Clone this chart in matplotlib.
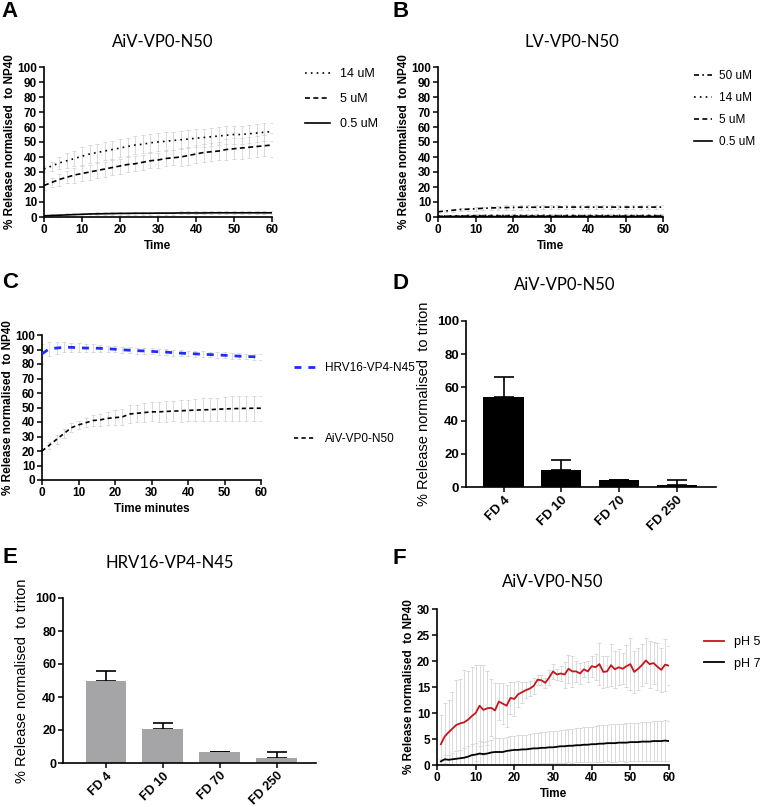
import matplotlib
matplotlib.use("Agg")
import matplotlib.pyplot as plt
import numpy as np

plt.rcParams['font.family'] = ['Liberation Sans', 'DejaVu Sans']

# ---------------- data ----------------
# Panel A (AiV-VP0-N50, concentrations)
a_time = list(range(0, 61, 2))
a_14 = [32, 34, 36, 37.5, 39, 40.5, 42, 43, 44, 45, 46, 47, 48, 48.5, 49.5, 50, 50.5, 51, 51.5, 52,
        52.5, 53, 53.5, 54, 54.5, 55, 55, 55.5, 56, 56.5, 57]
a_14_err = [2, 3, 4, 5, 5, 6, 6, 6, 6, 6, 6, 6, 6, 6, 6, 6, 6, 6, 6, 6, 6, 6, 6, 6, 6, 6, 6, 6, 6, 6, 6]
a_5 = [21, 23, 25, 26.5, 28, 29, 30, 31, 32, 33, 34, 35, 35.5, 36.5, 37.5, 38, 39, 39.5, 40, 41,
       42, 43, 43.5, 44, 45, 45.5, 46, 46.5, 47, 47.5, 48]
a_5_err = [3, 3, 4, 4, 5, 5, 5, 5, 5, 5, 5, 5, 5, 5, 5, 5, 5, 5, 6, 6, 6, 6, 6, 6, 7, 7, 7, 7, 7, 7, 8]
a_05 = [0.8, 1.0, 1.2, 1.4, 1.6, 1.8, 2.0, 2.1, 2.2, 2.3, 2.4, 2.4, 2.5, 2.5, 2.5, 2.6, 2.6, 2.6, 2.7,
        2.7, 2.7, 2.7, 2.8, 2.8, 2.8, 2.8, 2.8, 2.8, 2.8, 2.8, 2.8]
a_05_err = [0.8, 0.8, 1, 1, 1, 1, 1, 1, 1, 1, 1, 1, 1, 1, 1, 1, 1, 1, 1, 1, 1, 1, 1, 1, 1, 1, 1, 1, 1, 1, 1]
a_labels = ['14 uM', '5 uM', '0.5 uM']

# Panel B (LV-VP0-N50)
b_time = list(range(0, 61, 2))
b_50 = [3.5, 4, 4.5, 5, 5.2, 5.5, 5.8, 6, 6.2, 6.3, 6.4, 6.5, 6.5, 6.5, 6.6, 6.6, 6.6, 6.6, 6.6, 6.6,
        6.6, 6.6, 6.6, 6.6, 6.6, 6.6, 6.6, 6.6, 6.6, 6.6, 6.6]
b_50_err = [0.8, 0.8, 1, 1, 1, 1.2, 1.2, 1.2, 1.4, 1.4, 1.4, 1.5, 1.5, 1.5, 1.5, 1.5, 1.5, 1.5, 1.5, 1.5,
            1.5, 1.5, 1.5, 1.5, 1.5, 1.5, 1.5, 1.5, 1.5, 1.5, 1.5]
b_14 = [0.6, 0.7, 0.8, 0.8, 0.9, 0.9, 1.0, 1.0, 1.0, 1.0, 1.0, 1.0, 1.0, 1.0, 1.0, 1.0, 1.0, 1.0, 1.0,
        1.0, 1.0, 1.0, 1.0, 1.0, 1.0, 1.0, 1.0, 1.0, 1.0, 1.0, 1.0]
b_14_err = [0.8] * 31
b_5 = [0.4, 0.5, 0.5, 0.5, 0.6, 0.6, 0.6, 0.6, 0.6, 0.6, 0.6, 0.6, 0.6, 0.6, 0.6, 0.6, 0.6, 0.6, 0.6,
       0.6, 0.6, 0.6, 0.6, 0.6, 0.6, 0.6, 0.6, 0.6, 0.6, 0.6, 0.6]
b_5_err = [0.5] * 31
b_05 = [0.2, 0.2, 0.3, 0.3, 0.3, 0.3, 0.3, 0.3, 0.3, 0.3, 0.3, 0.3, 0.3, 0.3, 0.3, 0.3, 0.3, 0.3, 0.3,
        0.3, 0.3, 0.3, 0.3, 0.3, 0.3, 0.3, 0.3, 0.3, 0.3, 0.3, 0.3]
b_05_err = [0.3] * 31
b_labels = ['50 uM', '14 uM', '5 uM', '0.5 uM']

# Panel C
c_time = list(range(0, 61, 2))
c_hrv = [87, 90.5, 91, 91.5, 91.5, 91.2, 91, 91, 90.8, 90.5, 90.2, 89.8, 89.5, 89.2, 89, 88.7, 88.4,
         88.2, 87.8, 87.5, 87.2, 87, 86.7, 86.5, 86.3, 86, 85.7, 85.4, 85.2, 85, 84.8]
c_hrv_err = [7, 5, 4, 3.5, 3, 3, 2.5, 2.5, 2.5, 2, 2, 2, 2, 2, 2, 2, 2, 2, 2, 2, 2, 2, 2, 2, 2, 2, 2,
             2, 2, 2, 2]
c_aiv = [20, 24, 28, 32, 36, 38, 39.5, 41, 41.5, 42.5, 43, 43.5, 45.5, 46, 46.5, 47, 47, 47.3, 47.5,
         47.7, 48, 48.2, 48.4, 48.5, 48.8, 49, 49.2, 49.3, 49.4, 49.5, 49.5]
c_aiv_err = [2, 2.5, 3, 3, 3, 3, 3, 3.5, 4, 4.5, 5, 5.5, 6, 6, 6.5, 6.5, 7, 7, 7, 7.5, 7.5, 7.5, 8, 8,
             8, 8, 8.5, 8.5, 8.5, 8.5, 8.5]
c_labels = ['HRV16-VP4-N45', 'AiV-VP0-N50']

# Panels D, E (bars)
fd_categories = ['FD 4', 'FD 10', 'FD 70', 'FD 250']
d_values = [54, 10, 4, 1]
d_err = [12, 6, 0.5, 3]
e_values = [50, 20.5, 6.5, 3]
e_err = [6, 3.5, 0, 3.5]

# Panel F
f_time = list(range(1, 61))
f_ph5 = [4.0, 5.5, 6.3, 7.0, 7.7, 8.0, 8.2, 8.7, 9.4, 10.0, 11.4, 10.6, 10.9, 11.0, 10.5, 12.2, 11.8,
         11.4, 12.9, 12.7, 13.6, 14.0, 14.4, 14.7, 15.2, 16.4, 16.3, 15.8, 16.8, 18.0, 17.4, 17.6, 17.4,
         18.5, 18.0, 18.0, 17.6, 18.4, 18.0, 19.0, 18.8, 19.4, 17.9, 18.0, 19.2, 18.4, 18.8, 18.5, 19.0,
         19.4, 17.9, 18.5, 19.2, 20.1, 19.4, 19.6, 18.9, 18.3, 19.3, 19.1]
f_ph5_err = [5.6, 6.5, 6.2, 7.0, 8.6, 8.5, 10.0, 9.3, 9.4, 9.3, 7.8, 8.7, 7.1, 5.5, 5.3, 3.5, 4.0, 4.0,
             3.0, 3.3, 2.5, 2.0, 1.5, 1.5, 1.5, 1.0, 1.0, 1.0, 1.5, 1.5, 1.0, 1.5, 2.5, 2.7, 3.0, 2.0,
             2.0, 1.5, 2.0, 2.0, 2.5, 4.0, 3.0, 3.0, 4.0, 3.5, 3.5, 3.0, 4.0, 5.0, 4.0, 4.0, 4.0, 4.3,
             4.5, 4.0, 4.5, 4.2, 5.0, 3.8]
f_ph7 = [0.7, 1.1, 1.0, 1.1, 1.2, 1.3, 1.4, 1.6, 1.9, 2.0, 2.2, 2.1, 2.2, 2.4, 2.5, 2.5, 2.5, 2.7, 2.8,
         2.9, 2.9, 3.0, 3.0, 3.1, 3.2, 3.2, 3.3, 3.3, 3.4, 3.4, 3.5, 3.6, 3.6, 3.7, 3.7, 3.8, 3.8, 3.9,
         3.9, 4.0, 4.0, 4.1, 4.1, 4.2, 4.2, 4.2, 4.3, 4.3, 4.3, 4.4, 4.4, 4.4, 4.5, 4.5, 4.5, 4.6, 4.6,
         4.6, 4.7, 4.6]
f_ph7_err = [0.5, 0.8, 1.0, 1.2, 1.4, 1.6, 1.8, 2.0, 2.2, 2.3, 2.4, 2.4, 2.5, 2.5, 2.6, 2.6, 2.6, 2.7,
             2.7, 2.7, 2.8, 2.8, 2.8, 2.9, 2.9, 3.0, 3.0, 3.0, 3.1, 3.1, 3.1, 3.2, 3.2, 3.2, 3.3, 3.3,
             3.3, 3.4, 3.4, 3.4, 3.5, 3.5, 3.5, 3.5, 3.6, 3.6, 3.6, 3.6, 3.7, 3.7, 3.7, 3.7, 3.8, 3.8,
             3.8, 3.8, 3.9, 3.9, 3.9, 3.9]
f_labels = ['pH 5', 'pH 7']

# ---------------- figure ----------------
W, H = 760, 807
fig = plt.figure(figsize=(W / 100, H / 100), dpi=100)

def add_ax(left, right, top, bottom):
    return fig.add_axes([left / W, 1 - bottom / H, (right - left) / W, (bottom - top) / H])

ERR_C = '#d4d4d4'
TITLE_FONT = dict(family=['Lato', 'DejaVu Sans'], fontsize=12)

def style(ax, tick_size=8.5):
    for s in ['top', 'right']:
        ax.spines[s].set_visible(False)
    for s in ['left', 'bottom']:
        ax.spines[s].set_linewidth(1.2)
    ax.tick_params(direction='out', length=3.5, width=1.1, labelsize=tick_size, pad=1.5)
    for lab in ax.get_xticklabels() + ax.get_yticklabels():
        lab.set_fontweight('bold')

def series(ax, t, y, e, **kw):
    ax.errorbar(t, y, yerr=e, fmt='none', ecolor=ERR_C, elinewidth=0.6, capsize=1.2, capthick=0.6, zorder=1)
    line, = ax.plot(t, y, zorder=3, **kw)
    return line

def fig_title(x, y, s):
    fig.text(x / W, 1 - y / H, s, ha='center', va='center', **TITLE_FONT)

def letter(x, y, s):
    fig.text(x / W, 1 - y / H, s, ha='left', va='top', fontsize=16, fontweight='bold')

def place_legend(ax, handles, labels, x, y, spacing, hl=2.0, fs=9, tp=0.8):
    ax.legend(handles, labels, loc='upper left', bbox_to_anchor=(x / W, 1 - y / H),
              bbox_transform=fig.transFigure, frameon=False, fontsize=fs,
              labelspacing=spacing, handlelength=hl, handletextpad=tp, borderpad=0, borderaxespad=0)

YL = dict(fontsize=8.5, fontweight='bold', labelpad=1)

# ---- A ----
axA = add_ax(44, 272, 67, 217)
lA3 = series(axA, a_time, a_05, a_05_err, color='black', lw=1.2, linestyle='-')
lA2 = series(axA, a_time, a_5, a_5_err, color='black', lw=1.2, linestyle=(0, (3, 2)))
lA1 = series(axA, a_time, a_14, a_14_err, color='black', lw=1.2, linestyle=(0, (1, 2.5)))
axA.set_xlim(0, 60); axA.set_ylim(0, 100)
axA.set_xticks(range(0, 61, 10)); axA.set_yticks(range(0, 101, 10))
axA.set_xlabel('Time', fontsize=8.5, fontweight='bold', labelpad=3)
axA.set_ylabel('% Release normalised  to NP40', **YL)
style(axA)
place_legend(axA, [lA1, lA2, lA3], a_labels, 305, 68, 1.05)
fig_title(163, 42, 'AiV-VP0-N50')
letter(1, 1, 'A')

# ---- B ----
axB = add_ax(438, 663, 67, 217)
lB4 = series(axB, b_time, b_05, b_05_err, color='black', lw=1.2, linestyle='-')
lB3 = series(axB, b_time, b_5, b_5_err, color='black', lw=1.2, linestyle=(0, (3, 2)))
lB2 = series(axB, b_time, b_14, b_14_err, color='black', lw=1.2, linestyle=(0, (1, 2.5)))
lB1 = series(axB, b_time, b_50, b_50_err, color='black', lw=1.2, linestyle=(0, (3, 2, 1, 2)))
axB.set_xlim(0, 60); axB.set_ylim(0, 100)
axB.set_xticks(range(0, 61, 10)); axB.set_yticks(range(0, 101, 10))
axB.set_xlabel('Time', fontsize=8.5, fontweight='bold', labelpad=3)
axB.set_ylabel('% Release normalised  to NP40', **YL)
style(axB)
place_legend(axB, [lB1, lB2, lB3, lB4], b_labels, 694, 70, 0.85, hl=1.5, fs=8.5, tp=0.6)
fig_title(572, 42, 'LV-VP0-N50')
letter(392, 1, 'B')

# ---- C ----
axC = add_ax(42, 261, 335, 480)
lC1 = series(axC, c_time, c_hrv, c_hrv_err, color='#1f2eff', lw=2.0, linestyle=(0, (2.5, 2.5)))
lC2 = series(axC, c_time, c_aiv, c_aiv_err, color='black', lw=1.2, linestyle=(0, (2.5, 2)))
axC.set_xlim(0, 60); axC.set_ylim(0, 100)
axC.set_xticks(range(0, 61, 10)); axC.set_yticks(range(0, 101, 10))
axC.set_xlabel('Time minutes', fontsize=8.5, fontweight='bold', labelpad=3)
axC.set_ylabel('% Release normalised  to NP40', **YL)
style(axC)
place_legend(axC, [lC1, lC2], c_labels, 294, 362, 5.0, hl=1.8, fs=8.5)
letter(2, 272, 'C')

# ---- D ----
axD = add_ax(466, 716, 321, 487)
xD = np.arange(len(fd_categories))
axD.bar(xD, d_values, width=0.7, color='black', zorder=2)
axD.errorbar(xD, d_values, yerr=[[0] * 4, d_err], fmt='none', ecolor='black', elinewidth=1.2,
             capsize=7, capthick=1.2, zorder=1)
axD.set_xlim(-0.65, 3.68); axD.set_ylim(0, 100)
axD.set_yticks(range(0, 101, 20))
axD.set_xticks(xD)
axD.set_xticklabels(fd_categories, rotation=45, ha='right', rotation_mode='anchor')
axD.set_ylabel('% Release normalised  to triton', fontsize=10.5, labelpad=4)
style(axD, tick_size=9.5)
fig_title(565, 285, 'AiV-VP0-N50')
letter(392, 273, 'D')

# ---- E ----
axE = add_ax(63, 316, 598, 763)
xE = np.arange(len(fd_categories))
axE.bar(xE, e_values, width=0.71, color='#a5a5a8', zorder=2)
axE.errorbar(xE, e_values, yerr=[[0] * 4, e_err], fmt='none', ecolor='black', elinewidth=1.2,
             capsize=7, capthick=1.2, zorder=1)
axE.set_xlim(-0.75, 3.69); axE.set_ylim(0, 100)
axE.set_yticks(range(0, 101, 20))
axE.set_xticks(xE)
axE.set_xticklabels(fd_categories, rotation=45, ha='right', rotation_mode='anchor')
axE.set_ylabel('% Release normalised  to triton', fontsize=10.5, labelpad=4)
style(axE, tick_size=9)
fig_title(170, 563, 'HRV16-VP4-N45')
letter(2, 547, 'E')

# ---- F ----
axF = add_ax(437, 669, 609, 765)
lF1 = series(axF, f_time, f_ph5, f_ph5_err, color='#c4161c', lw=1.3, linestyle='-')
lF2 = series(axF, f_time, f_ph7, f_ph7_err, color='black', lw=1.3, linestyle='-')
axF.set_xlim(0, 60); axF.set_ylim(0, 30)
axF.set_xticks(range(0, 61, 10)); axF.set_yticks(range(0, 31, 5))
axF.set_xlabel('Time', fontsize=8.5, fontweight='bold', labelpad=3)
axF.set_ylabel('% Release normalised  to NP40', **YL)
style(axF)
place_legend(axF, [lF1, lF2], f_labels, 704, 636, 0.76, hl=1.6)
fig_title(553, 582, 'AiV-VP0-N50')
letter(392, 548, 'F')

fig.savefig('out.png', dpi=100)
